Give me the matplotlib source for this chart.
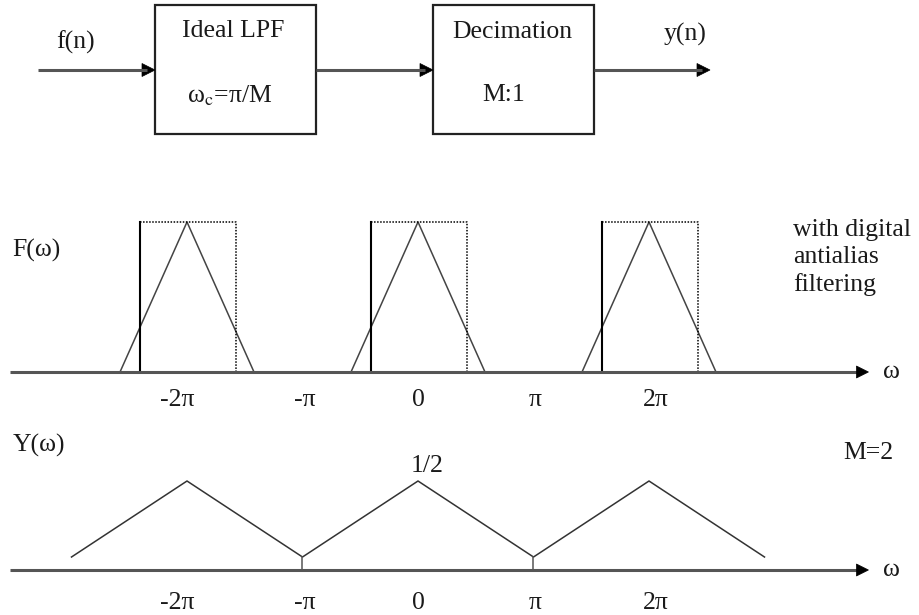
import numpy as np
import matplotlib
matplotlib.use("Agg")
import matplotlib.pyplot as plt
from matplotlib.patches import Rectangle, Polygon

plt.rcParams['font.family'] = ['Liberation Serif', 'DejaVu Serif']
plt.rcParams['mathtext.fontset'] = 'stix'

# ---------------- data (frequencies in units of pi) ----------------
F_centers = [-2, 0, 2]          # replica centres of F(w)
F_half_width = 0.58             # half base width of each triangle
F_peak = 1.0
LPF_edges = [-0.41, 0.42]       # ideal LPF passband edges around each centre
LPF_height = 1.0

Y_omega = [-3, -2, -1, 0, 1, 2, 3]
Y_values = [0.073, 0.5, 0.073, 0.5, 0.073, 0.5, 0.073]
Y_stub_omega = [-1, 1]

tick_labels = ['-2π', '-π', '0', 'π', '2π']
tick_label_pos = [-2.087, -0.978, 0.0, 1.013, 2.06]

# ---------------- figure ----------------
W, H, DPI = 919, 615, 100
fig = plt.figure(figsize=(W / DPI, H / DPI), dpi=DPI)
TXT = '#1a1a1a'
FS = 18.5
LINE = '#555555'

# pixel-space axes for the block diagram and arrowheads
axb = fig.add_axes([0, 0, 1, 1])
axb.set_xlim(0, W)
axb.set_ylim(H, 0)
axb.axis('off')
axb.set_zorder(5)
axb.patch.set_alpha(0)

def head(xtip, ytip, L=13, hw=6.5):
    axb.add_patch(Polygon([(xtip, ytip), (xtip - L, ytip - hw), (xtip - L, ytip + hw)],
                          closed=True, fc='black', ec='black', lw=0.5))

def parrow(x0, x1, y):
    axb.plot([x0, x1 - 8], [y, y], color=LINE, lw=2.2, solid_capstyle='butt')
    head(x1, y)

for (x0, x1) in [(155, 316), (433, 594)]:
    axb.add_patch(Rectangle((x0, 5), x1 - x0, 129, fill=False, lw=1.6, ec='#222222'))

parrow(38, 155, 70)
parrow(316, 433, 70)
parrow(594, 710, 70)
axb.text(75, 42, 'f(n)', ha='center', va='center', fontsize=FS, color=TXT)
axb.text(233, 31, 'Ideal LPF', ha='center', va='center', fontsize=FS, color=TXT)
axb.text(230, 96, r'ω$_{\rm c}$=π/M', ha='center', va='center', fontsize=FS, color=TXT)
axb.text(512, 32, 'Decimation', ha='center', va='center', fontsize=FS, color=TXT)
axb.text(504, 95, 'M:1', ha='center', va='center', fontsize=FS, color=TXT)
axb.text(685, 34, 'y(n)', ha='center', va='center', fontsize=FS, color=TXT)

# frequency axes: x in units of pi, 115.5 px per pi, zero at x=418 px
PX_PER_PI = 115.5
X0 = 418
xlim = (-X0 / PX_PER_PI, (W - X0) / PX_PER_PI)

def spectrum_axes(base_px, px_per_unit):
    ax = fig.add_axes([0, 0, 1, 1])
    ax.patch.set_alpha(0)
    ax.set_xlim(*xlim)
    ax.set_ylim((base_px - H) / px_per_unit, base_px / px_per_unit)
    ax.axis('off')
    return ax

def omega_axis(ax, base_px):
    ax.plot([-3.53, 3.82], [0, 0], color=LINE, lw=2.2, solid_capstyle='butt')
    head(X0 + 3.9 * PX_PER_PI, base_px, L=12, hw=6)
    ax.text(4.1, 0, 'ω', ha='center', va='center', fontsize=FS, color=TXT)

# ---- F(omega) panel ----
axF = spectrum_axes(372, 150)
for c in F_centers:
    axF.plot([c - F_half_width, c, c + F_half_width], [0, F_peak, 0],
             color='#444444', lw=1.1)
    l, r = c + LPF_edges[0], c + LPF_edges[1]
    axF.plot([l, l], [0, LPF_height], color='black', lw=1.5)
    axF.plot([l, r, r], [LPF_height, LPF_height, 0], color='black', lw=1.1,
             linestyle=(0, (1, 1)))
omega_axis(axF, 372)
for p, t in zip(tick_label_pos, tick_labels):
    axF.text(p, -0.19, t, ha='center', va='center', fontsize=FS, color=TXT)
axF.text(-3.51, 0.81, 'F(ω)', ha='left', va='center', fontsize=FS, color=TXT)
axF.text(3.245, 0.765, 'with digital\nantialias\nfiltering', ha='left', va='center',
         fontsize=FS, color=TXT, linespacing=1.3)

# ---- Y(omega) panel ----
axY = spectrum_axes(570, 178)
axY.plot(Y_omega, Y_values, color='#333333', lw=1.1)
for s in Y_stub_omega:
    axY.plot([s, s], [0, Y_values[Y_omega.index(s)]], color='#555555', lw=1.1)
omega_axis(axY, 570)
for p, t in zip(tick_label_pos, tick_labels):
    axY.text(p, -0.185, t, ha='center', va='center', fontsize=FS, color=TXT)
axY.text(-3.51, 0.70, 'Y(ω)', ha='left', va='center', fontsize=FS, color=TXT)
axY.text(0.08, 0.585, '1/2', ha='center', va='center', fontsize=FS, color=TXT)
axY.text(3.9, 0.66, 'M=2', ha='center', va='center', fontsize=FS, color=TXT)

fig.savefig('out.png', dpi=DPI, facecolor='white')
